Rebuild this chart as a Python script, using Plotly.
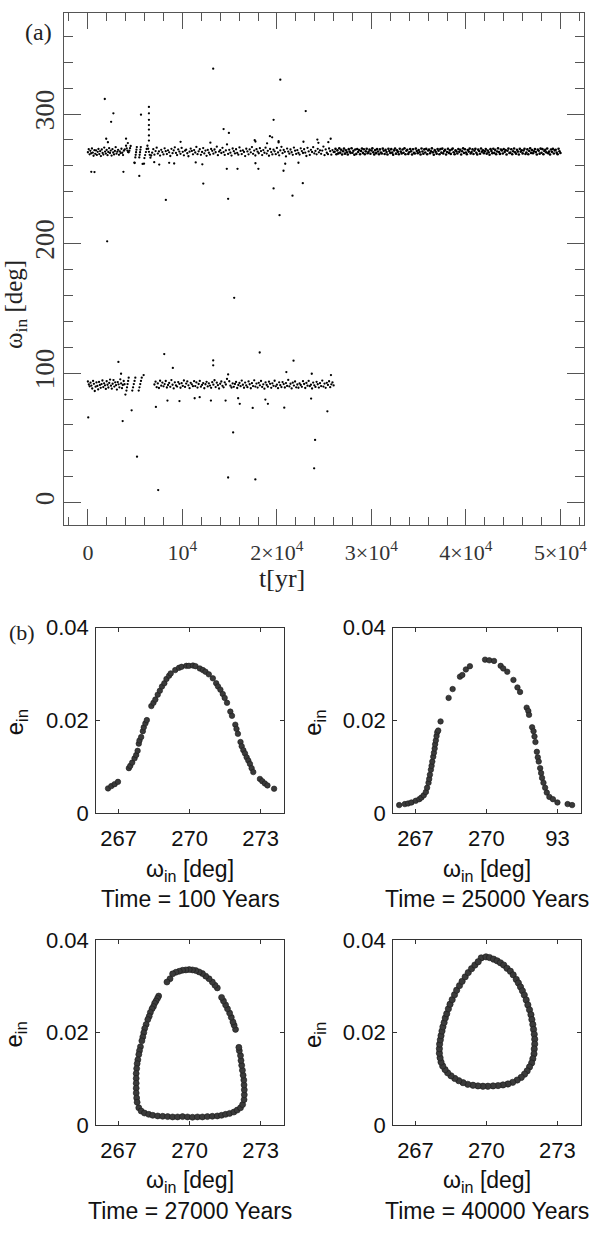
import plotly.graph_objects as go

# ---------------- panel (a): omega_in versus time ----------------
# upper branch, t < 4000 yr
t_up_early = [0, 90, 180, 260, 350, 430, 520, 600, 690, 780, 860, 950, 1040, 1120, 1210, 1300, 1380, 1470, 1560, 1640,
              1730, 1820, 1900, 1990, 2080, 2160, 2250, 2340, 2420, 2510, 2600, 2680, 2770, 2860, 2940, 3030, 3120, 3200,
              3290, 3380, 3460, 3550, 3640, 3720, 3810, 3900]
w_up_early = [270.5, 272.8, 268.9, 271.6, 269.7, 273.4, 270.2, 267.8, 272.1, 269.3, 271.9, 268.4, 270.8, 273.0, 269.1,
              271.3, 267.5, 272.6, 270.0, 268.7, 274.1, 271.0, 269.5, 272.3, 268.2, 270.7, 273.6, 269.9, 271.8, 267.9,
              272.9, 270.3, 268.8, 271.5, 274.4, 269.4, 270.9, 272.4, 268.5, 271.2, 269.8, 273.2, 270.1, 268.3, 271.7, 272.6]
# upper branch, the U / || / Lambda features and the spike near 6500 yr
t_up_shapes = [4040, 4110, 4180, 4250, 4320, 4390, 4460, 4530, 5020, 5060, 5100, 5140, 5180, 5440, 5480, 5520, 5560, 5600,
               5980, 6060, 6140, 6220, 6300, 6380, 6460, 6540, 6620, 6700, 6460, 6460, 6460, 6460, 6460, 6460, 6460,
               6800, 6920]
w_up_shapes = [275.5, 273.5, 271.8, 270.6, 270.4, 271.7, 273.6, 275.3, 266.5, 268.5, 270.5, 272.5, 274.5, 266.5, 268.5,
               270.5, 272.5, 274.5, 266.0, 268.3, 270.6, 273.0, 275.5, 273.2, 270.8, 268.5, 266.3, 268.0, 305.5, 300.5,
               295.5, 291.5, 288.0, 283.5, 279.5, 270.2, 272.9]
# common sampling times 7000-26000 yr (both branches)
t_mid = [7040, 7160, 7280, 7400, 7520, 7640, 7760, 7880, 8000, 8120,
         8240, 8360, 8480, 8600, 8720, 8840, 8960, 9080, 9200, 9320,
         9440, 9560, 9680, 9800, 9920, 10040, 10160, 10280, 10400, 10520,
         10640, 10760, 10880, 11000, 11120, 11240, 11360, 11480, 11600, 11720,
         11840, 11960, 12080, 12200, 12320, 12440, 12560, 12680, 12800, 12920,
         13040, 13160, 13280, 13400, 13520, 13640, 13760, 13880, 14000, 14120,
         14240, 14360, 14480, 14600, 14720, 14840, 14960, 15080, 15200, 15320,
         15440, 15560, 15680, 15800, 15920, 16040, 16160, 16280, 16400, 16520,
         16640, 16760, 16880, 17000, 17120, 17240, 17360, 17480, 17600, 17720,
         17840, 17960, 18080, 18200, 18320, 18440, 18560, 18680, 18800, 18920,
         19040, 19160, 19280, 19400, 19520, 19640, 19760, 19880, 20000, 20120,
         20240, 20360, 20480, 20600, 20720, 20840, 20960, 21080, 21200, 21320,
         21440, 21560, 21680, 21800, 21920, 22040, 22160, 22280, 22400, 22520,
         22640, 22760, 22880, 23000, 23120, 23240, 23360, 23480, 23600, 23720,
         23840, 23960, 24080, 24200, 24320, 24440, 24560, 24680, 24800, 24920,
         25040, 25160, 25280, 25400, 25520, 25640, 25760, 25880, 26000]
w_up_mid = [268.6, 271.4, 274.0, 269.5, 271.1, 267.9, 272.4, 270.6, 268.8, 273.5,
            271.3, 269.1, 272.0, 270.4, 267.6, 273.1, 269.8, 271.9, 274.3, 270.0,
            268.3, 272.7, 271.0, 269.3, 273.8, 270.8, 268.1, 271.7, 272.5, 269.7,
            267.4, 270.9, 273.3, 271.5, 268.9, 272.2, 270.3, 274.6, 269.0, 271.2,
            272.8, 268.5, 270.7, 273.7, 269.6, 271.8, 267.7, 272.3, 270.1, 268.7,
            273.0, 271.6, 269.4, 272.6, 270.5, 274.8, 268.2, 271.0, 272.1, 269.9,
            273.9, 270.6, 268.4, 271.9, 276.5, 269.2, 272.4, 270.2, 267.9, 273.4,
            271.3, 269.6, 272.8, 270.0, 268.6, 274.2, 271.5, 269.1, 272.0, 270.7,
            267.5, 273.2, 271.1, 268.9, 272.7, 270.4, 274.5, 269.3, 271.8, 268.0,
            272.9, 270.9, 269.7, 273.6, 271.4, 268.3, 272.2, 270.1, 274.0, 269.5,
            271.6, 267.8, 273.0, 270.6, 268.8, 272.5, 271.2, 269.0, 273.8, 270.3,
            268.1, 271.9, 274.7, 269.8, 272.3, 270.8, 267.3, 273.3, 271.0, 269.4,
            272.6, 270.5, 268.5, 274.1, 271.7, 269.2, 272.1, 270.0, 268.7, 273.5,
            271.4, 269.9, 272.8, 270.2, 267.6, 273.9, 271.1, 268.4, 272.4, 270.7,
            274.4, 269.6, 271.5, 268.9, 273.1, 270.4, 272.0, 269.3, 271.8, 274.9,
            268.2, 272.7, 270.1, 269.0, 273.4, 271.3, 268.6, 272.2, 270.6]
w_lo_mid = [91.2, 93.4, 89.1, 92.0, 88.5, 94.1, 90.3, 92.7, 89.8, 91.5,
            93.9, 88.9, 90.8, 92.4, 89.4, 94.6, 91.0, 88.2, 92.9, 90.5,
            89.6, 93.1, 91.7, 88.7, 92.2, 90.1, 94.3, 89.3, 91.9, 93.6,
            90.6, 88.4, 92.5, 91.3, 89.9, 93.8, 90.0, 92.8, 88.8, 91.6,
            94.0, 89.5, 90.9, 92.3, 88.3, 91.4, 93.3, 89.7, 92.1, 90.4,
            88.6, 93.0, 91.1, 94.5, 89.2, 92.6, 90.7, 88.1, 91.8, 93.5,
            90.2, 89.0, 92.9, 91.2, 95.5, 99.0, 93.7, 90.3, 88.9, 92.0,
            89.4, 91.6, 93.2, 88.5, 90.8, 92.4, 89.9, 94.2, 91.0, 88.7,
            92.7, 90.5, 89.1, 93.6, 91.4, 88.3, 92.2, 90.0, 94.4, 89.6,
            91.9, 88.8, 92.5, 90.6, 93.9, 89.3, 91.3, 88.0, 92.8, 90.9,
            89.5, 93.4, 91.7, 88.6, 92.1, 90.2, 94.1, 89.8, 91.1, 88.4,
            92.9, 90.7, 89.2, 93.1, 91.5, 88.9, 92.3, 90.1, 94.7, 89.7,
            91.8, 88.2, 92.6, 90.4, 93.5, 89.0, 91.2, 88.7, 92.0, 90.8,
            89.4, 93.8, 91.6, 88.5, 92.4, 90.3, 94.0, 89.9, 91.0, 88.1,
            92.7, 90.6, 89.3, 93.3, 91.4, 88.8, 92.2, 90.0, 94.2, 89.6,
            91.9, 88.6, 92.5, 90.9, 93.7, 89.1, 91.3, 92.8, 90.5]
# lower branch, t < 4000 yr and the three slanted strokes
t_lo_early = [0, 100, 190, 280, 370, 460, 550, 640, 730, 820, 910, 1000, 1090, 1180, 1270, 1360, 1450, 1540, 1630, 1720,
              1810, 1900, 1990, 2080, 2170, 2260, 2350, 2440, 2530, 2620, 2710, 2800, 2890, 2980, 3070, 3160, 3250, 3340,
              3430, 3520, 3610, 3700, 3790, 3880]
w_lo_early = [93.5, 91.2, 89.8, 92.6, 90.4, 88.1, 94.0, 91.7, 86.2, 89.5, 92.8, 90.1, 87.4, 93.2, 90.9, 88.6, 91.5, 94.3,
              89.2, 92.1, 90.6, 87.8, 93.7, 91.0, 88.9, 92.4, 95.0, 90.3, 88.0, 91.8, 94.6, 89.6, 92.9, 90.7, 87.3, 93.1,
              91.3, 89.0, 95.2, 92.0, 88.4, 90.8, 93.9, 91.4]
t_lo_strokes = [4080, 4140, 4200, 4260, 4320, 4700, 4780, 4860, 4940, 5020, 5380, 5460, 5540, 5620, 5700]
w_lo_strokes = [86.5, 89.0, 91.5, 94.0, 96.5, 86.5, 89.0, 91.5, 94.0, 96.5, 86.5, 89.0, 91.5, 94.0, 96.5]
# scattered points away from the bands
t_out_up = [1790, 2460, 2700, 1940, 4040, 360, 700, 3760, 4950, 5440, 5940, 5620, 2040, 8250, 13260, 12210, 14360, 14920,
            14840, 14700, 15830, 15480, 18040, 17650, 19650, 20360, 20280, 19650, 20700, 21650, 19260, 19500, 20180,
            23050, 22740, 24280, 25690, 4920, 5790, 7020, 7550, 8600, 9130, 11410, 12110, 17730, 20880, 22280, 2120,
            4230, 9810, 12960, 17730, 18960, 20180, 22810, 24390, 25440]
w_out_up = [311.6, 294.0, 300.5, 280.9, 281.0, 255.4, 255.2, 255.4, 262.2, 252.2, 261.7, 299.5, 201.7, 233.7, 335.0,
            246.3, 288.4, 285.4, 234.5, 257.7, 257.7, 158.1, 257.7, 279.8, 295.5, 326.5, 221.9, 242.6, 256.2, 237.0,
            282.9, 282.0, 279.0, 302.3, 246.6, 280.3, 280.9, 262.5, 261.5, 262.8, 261.0, 262.3, 261.8, 262.6, 261.2,
            262.0, 261.6, 262.4, 278.2, 277.6, 278.5, 277.9, 278.8, 277.4, 278.1, 278.6, 277.8, 278.3]
t_out_lo = [40, 3230, 3510, 3680, 3970, 4630, 5200, 5900, 7200, 7440, 8080, 8420, 8990, 9690, 11300, 11830, 13020, 13260,
            13260, 14570, 14840, 15370, 15900, 16070, 17440, 17720, 18180, 18780, 19050, 20780, 21760, 21000, 23690,
            23620, 24040, 23940, 25340, 25720]
w_out_lo = [65.8, 108.6, 99.5, 63.0, 83.4, 71.3, 35.5, 98.5, 73.9, 9.7, 114.7, 78.8, 104.0, 78.4, 80.6, 81.4, 78.8, 106.0,
            109.8, 78.8, 19.4, 54.2, 80.6, 76.3, 73.1, 17.9, 115.9, 79.6, 76.3, 73.3, 109.6, 100.8, 99.5, 80.3, 48.4,
            26.5, 70.5, 98.5]
# late, tightly confined band (t > 26000 yr)
t_late = [26100, 26200, 26300, 26400, 26500, 26600, 26700, 26800, 26900, 27000,
          27100, 27200, 27300, 27400, 27500, 27600, 27700, 27800, 27900, 28000,
          28100, 28200, 28300, 28400, 28500, 28600, 28700, 28800, 28900, 29000,
          29100, 29200, 29300, 29400, 29500, 29600, 29700, 29800, 29900, 30000,
          30100, 30200, 30300, 30400, 30500, 30600, 30700, 30800, 30900, 31000,
          31100, 31200, 31300, 31400, 31500, 31600, 31700, 31800, 31900, 32000,
          32100, 32200, 32300, 32400, 32500, 32600, 32700, 32800, 32900, 33000,
          33100, 33200, 33300, 33400, 33500, 33600, 33700, 33800, 33900, 34000,
          34100, 34200, 34300, 34400, 34500, 34600, 34700, 34800, 34900, 35000,
          35100, 35200, 35300, 35400, 35500, 35600, 35700, 35800, 35900, 36000,
          36100, 36200, 36300, 36400, 36500, 36600, 36700, 36800, 36900, 37000,
          37100, 37200, 37300, 37400, 37500, 37600, 37700, 37800, 37900, 38000,
          38100, 38200, 38300, 38400, 38500, 38600, 38700, 38800, 38900, 39000,
          39100, 39200, 39300, 39400, 39500, 39600, 39700, 39800, 39900, 40000,
          40100, 40200, 40300, 40400, 40500, 40600, 40700, 40800, 40900, 41000,
          41100, 41200, 41300, 41400, 41500, 41600, 41700, 41800, 41900, 42000,
          42100, 42200, 42300, 42400, 42500, 42600, 42700, 42800, 42900, 43000,
          43100, 43200, 43300, 43400, 43500, 43600, 43700, 43800, 43900, 44000,
          44100, 44200, 44300, 44400, 44500, 44600, 44700, 44800, 44900, 45000,
          45100, 45200, 45300, 45400, 45500, 45600, 45700, 45800, 45900, 46000,
          46100, 46200, 46300, 46400, 46500, 46600, 46700, 46800, 46900, 47000,
          47100, 47200, 47300, 47400, 47500, 47600, 47700, 47800, 47900, 48000,
          48100, 48200, 48300, 48400, 48500, 48600, 48700, 48800, 48900, 49000,
          49100, 49200, 49300, 49400, 49500, 49600, 49700, 49800, 49900, 50000]
w_late = [270.8, 273.1, 268.9, 271.9, 269.6, 273.5, 270.2, 272.4, 268.7, 271.3,
          273.3, 269.4, 272.0, 270.5, 268.8, 272.9, 271.0, 269.9, 273.6, 270.1,
          271.7, 268.6, 272.6, 269.2, 273.0, 270.7, 272.2, 269.0, 271.5, 273.4,
          270.0, 272.8, 268.9, 271.2, 273.2, 269.7, 270.9, 272.5, 269.3, 271.8,
          273.5, 270.4, 268.7, 272.1, 269.8, 273.0, 271.1, 268.9, 272.7, 270.3,
          269.5, 273.3, 271.6, 269.1, 272.3, 270.6, 268.8, 273.1, 271.4, 269.9,
          272.9, 270.2, 268.6, 271.9, 273.4, 269.4, 272.0, 270.8, 269.0, 273.2,
          271.0, 269.6, 272.6, 270.1, 273.5, 268.9, 271.7, 272.4, 269.2, 270.5,
          273.0, 271.3, 268.7, 272.8, 270.0, 269.5, 273.3, 271.5, 269.8, 272.2,
          270.6, 268.8, 273.4, 271.1, 269.3, 272.7, 270.3, 273.1, 268.9, 271.8,
          272.5, 269.7, 271.2, 273.5, 270.4, 268.6, 272.1, 270.9, 269.4, 273.0,
          271.6, 269.0, 272.9, 270.2, 273.3, 269.6, 271.4, 272.3, 268.8, 270.7,
          273.2, 270.0, 271.9, 269.2, 272.6, 273.4, 270.5, 268.9, 272.0, 271.1,
          269.5, 273.0, 270.8, 272.4, 268.7, 271.3, 273.5, 269.9, 272.8, 270.3,
          268.9, 272.2, 271.0, 273.3, 269.6, 270.6, 272.7, 269.1, 271.7, 273.1,
          270.1, 268.8, 272.5, 271.4, 269.3, 273.4, 270.9, 272.0, 269.7, 271.2,
          273.0, 269.4, 271.8, 270.4, 268.6, 272.9, 271.5, 269.8, 273.2, 270.0,
          272.3, 268.9, 271.1, 273.5, 270.6, 269.2, 272.6, 271.9, 269.5, 273.0,
          270.7, 272.1, 268.7, 271.6, 273.3, 269.9, 270.2, 272.8, 269.0, 271.3,
          273.4, 270.5, 269.3, 272.4, 271.0, 268.8, 273.1, 270.9, 272.0, 269.6,
          271.8, 273.2, 269.1, 270.3, 272.7, 268.9, 271.4, 273.5, 270.0, 272.2,
          269.7, 271.2, 273.0, 270.6, 268.7, 272.5, 271.7, 269.4, 273.3, 270.1,
          272.9, 269.0, 271.5, 272.3, 270.4, 273.4, 269.8, 271.0, 268.8, 272.6,
          270.8, 273.1, 269.5, 271.9, 272.4, 270.2, 268.9, 273.2, 271.3, 269.9]

# ---------------- panel (b): e_in versus omega_in snapshots ----------------
snap_titles = ["Time = 100 Years", "Time = 25000 Years", "Time = 27000 Years", "Time = 40000 Years"]
w_b1 = [266.55, 266.69, 266.83, 266.97, 267.43, 267.49, 267.57, 267.67, 267.74, 267.80, 267.85, 267.88, 267.95, 268.02,
        268.06, 268.13, 268.19, 268.38, 268.47, 268.55, 268.65, 268.74, 268.83, 268.93, 269.02, 269.13, 269.20, 269.39,
        269.55, 269.66, 269.86, 269.97, 270.14, 270.25, 270.43, 270.56, 270.67, 270.81, 270.98, 271.12, 271.20, 271.30,
        271.40, 271.48, 271.58, 271.72, 271.79, 271.93, 271.98, 272.04, 272.15, 272.20, 272.27, 272.34, 272.41, 272.48,
        272.55, 272.62, 272.69, 272.97, 273.07, 273.18, 273.29, 273.57]
e_b1 = [0.00535, 0.00585, 0.00627, 0.00676, 0.00972, 0.01021, 0.01092, 0.01183, 0.01254, 0.01345, 0.01500, 0.01570,
        0.01641, 0.01768, 0.01852, 0.01937, 0.02007, 0.02310, 0.02380, 0.02451, 0.02556, 0.02641, 0.02732, 0.02803,
        0.02894, 0.02965, 0.03014, 0.03085, 0.03134, 0.03155, 0.03176, 0.03176, 0.03183, 0.03169, 0.03120, 0.03085,
        0.03049, 0.02993, 0.02908, 0.02803, 0.02732, 0.02662, 0.02570, 0.02486, 0.02380, 0.02190, 0.02099, 0.01908,
        0.01817, 0.01711, 0.01535, 0.01444, 0.01359, 0.01289, 0.01204, 0.01134, 0.01063, 0.00972, 0.00887, 0.00739,
        0.00690, 0.00641, 0.00599, 0.00528]
w_b2 = [266.31, 266.55, 266.69, 266.83, 267.01, 267.16, 267.25, 267.35, 267.44, 267.49, 267.55, 267.58, 267.61, 267.65,
        267.68, 267.71, 267.75, 267.78, 267.81, 267.83, 267.86, 267.89, 267.92, 267.96, 268.06, 268.40, 268.57, 268.88,
        268.98, 269.13, 269.30, 269.94, 270.12, 270.32, 270.60, 270.71, 270.88, 271.14, 271.31, 271.42, 271.70, 271.77,
        271.80, 271.93, 271.99, 272.03, 272.07, 272.13, 272.17, 272.21, 272.27, 272.31, 272.35, 272.41, 272.48, 272.55,
        272.66, 272.81, 273.00, 273.43, 273.62]
e_b2 = [0.00176, 0.00197, 0.00211, 0.00232, 0.00268, 0.00303, 0.00338, 0.00387, 0.00458, 0.00549, 0.00655, 0.00739,
        0.00831, 0.00937, 0.01021, 0.01113, 0.01218, 0.01303, 0.01394, 0.01486, 0.01570, 0.01662, 0.01746, 0.01782,
        0.01979, 0.02486, 0.02676, 0.02944, 0.02979, 0.03099, 0.03169, 0.03310, 0.03296, 0.03282, 0.03176, 0.03120,
        0.03049, 0.02873, 0.02711, 0.02613, 0.02275, 0.02204, 0.02120, 0.01852, 0.01768, 0.01655, 0.01535, 0.01324,
        0.01204, 0.01113, 0.00972, 0.00866, 0.00761, 0.00655, 0.00549, 0.00444, 0.00352, 0.00303, 0.00232, 0.00197,
        0.00176]
w_b3 = [267.85, 267.95, 268.09, 268.27, 268.44, 268.65, 268.86, 269.07, 269.28, 269.49, 269.70, 269.91, 270.12, 270.33,
        270.54, 270.75, 270.96, 271.17, 271.35, 271.52, 271.69, 271.87, 272.01, 272.15, 272.24, 272.30, 272.31, 272.31,
        272.30, 272.29, 272.26, 272.23, 272.20, 272.17, 272.15, 272.10, 272.08, 271.94, 271.88, 271.83, 271.76, 271.69,
        271.60, 271.52, 271.43, 271.35, 271.17, 271.07, 270.96, 270.82, 270.68, 270.54, 270.40, 270.26, 270.12, 269.98,
        269.84, 269.70, 269.56, 269.42, 269.28, 269.17, 269.04, 268.69, 268.64, 268.58, 268.52, 268.47, 268.41, 268.34,
        268.29, 268.23, 268.16, 268.10, 268.06, 268.02, 267.98, 267.92, 267.88, 267.85, 267.81, 267.78, 267.76, 267.74,
        267.74, 267.74, 267.74, 267.74, 267.76, 267.78]
e_b3 = [0.00375, 0.00304, 0.00261, 0.00233, 0.00212, 0.00198, 0.00191, 0.00184, 0.00177, 0.00177, 0.00184, 0.00177,
        0.00170, 0.00177, 0.00177, 0.00184, 0.00191, 0.00198, 0.00212, 0.00233, 0.00254, 0.00283, 0.00325, 0.00375,
        0.00445, 0.00551, 0.00657, 0.00763, 0.00869, 0.00975, 0.01081, 0.01187, 0.01293, 0.01399, 0.01505, 0.01611,
        0.01682, 0.02071, 0.02163, 0.02233, 0.02332, 0.02424, 0.02516, 0.02601, 0.02686, 0.02763, 0.02968, 0.03025,
        0.03095, 0.03166, 0.03223, 0.03279, 0.03314, 0.03343, 0.03357, 0.03364, 0.03357, 0.03350, 0.03329, 0.03307,
        0.03272, 0.03166, 0.03095, 0.02792, 0.02742, 0.02686, 0.02636, 0.02565, 0.02516, 0.02438, 0.02353, 0.02283,
        0.02177, 0.02092, 0.02000, 0.01908, 0.01823, 0.01696, 0.01611, 0.01527, 0.01413, 0.01329, 0.01223, 0.01117,
        0.01011, 0.00905, 0.00799, 0.00693, 0.00587, 0.00495]
w_b4 = [269.78, 269.98, 270.13, 270.30, 270.45, 270.59, 270.73, 270.87, 271.01, 271.13, 271.26, 271.35, 271.44, 271.52,
        271.60, 271.68, 271.75, 271.82, 271.88, 271.92, 271.96, 271.99, 272.02, 272.04, 272.04, 272.02, 272.01, 271.96,
        271.91, 271.82, 271.72, 271.61, 271.47, 271.30, 271.11, 270.91, 270.70, 270.49, 270.28, 270.06, 269.85, 269.64,
        269.43, 269.21, 269.01, 268.83, 268.66, 268.50, 268.36, 268.25, 268.15, 268.08, 268.04, 268.01, 268.01, 268.02,
        268.05, 268.08, 268.12, 268.16, 268.21, 268.26, 268.32, 268.39, 268.46, 268.55, 268.65, 268.74, 268.86, 268.97,
        269.10, 269.23, 269.37, 269.51, 269.65]
e_b4 = [0.03618, 0.03640, 0.03625, 0.03590, 0.03555, 0.03512, 0.03463, 0.03392, 0.03329, 0.03251, 0.03152, 0.03074,
        0.02989, 0.02905, 0.02813, 0.02707, 0.02601, 0.02495, 0.02389, 0.02283, 0.02177, 0.02071, 0.01965, 0.01859,
        0.01753, 0.01647, 0.01541, 0.01435, 0.01343, 0.01258, 0.01173, 0.01102, 0.01032, 0.00975, 0.00926, 0.00890,
        0.00869, 0.00855, 0.00848, 0.00841, 0.00841, 0.00848, 0.00862, 0.00883, 0.00919, 0.00961, 0.01011, 0.01067,
        0.01131, 0.01201, 0.01279, 0.01364, 0.01456, 0.01555, 0.01654, 0.01753, 0.01845, 0.01936, 0.02035, 0.02127,
        0.02219, 0.02318, 0.02410, 0.02516, 0.02615, 0.02714, 0.02820, 0.02919, 0.03018, 0.03110, 0.03208, 0.03300,
        0.03385, 0.03463, 0.03534]

# tick labels
a_xticks = [0, 10000, 20000, 30000, 40000, 50000]
a_xticktext = ["0", "10<sup>4</sup>", "2×10<sup>4</sup>", "3×10<sup>4</sup>", "4×10<sup>4</sup>", "5×10<sup>4</sup>"]
a_yticks = [0, 100, 200, 300]
b_xticks = [267, 270, 273]
b_xticktext = [["267", "270", "273"], ["267", "270", "93"], ["267", "270", "273"], ["267", "270", "273"]]
b_yticks = [0, 0.02, 0.04]
b_yticktext = ["0", "0.02", "0.04"]

pairs = [(t_up_early, w_up_early), (t_up_shapes, w_up_shapes), (t_mid, w_up_mid), (t_mid, w_lo_mid),
         (t_lo_early, w_lo_early), (t_lo_strokes, w_lo_strokes), (t_out_up, w_out_up), (t_out_lo, w_out_lo),
         (t_late, w_late), (w_b1, e_b1), (w_b2, e_b2), (w_b3, e_b3), (w_b4, e_b4)]
for i, (a, b) in enumerate(pairs):
    if len(a) != len(b):
        raise ValueError(f"length mismatch in pair {i}: {len(a)} vs {len(b)}")

# ---------------- figure ----------------
W, H = 600, 1241
SERIF = "Liberation Serif, Times New Roman, serif"
SANS = "Liberation Sans, Arial, Helvetica, sans-serif"


def fx(px):
    return px / W


def fy(py):
    return 1 - py / H


fig = go.Figure()

t_all = t_up_early + t_up_shapes + t_mid + t_mid + t_lo_early + t_lo_strokes + t_out_up + t_out_lo
w_all = w_up_early + w_up_shapes + w_up_mid + w_lo_mid + w_lo_early + w_lo_strokes + w_out_up + w_out_lo
fig.add_trace(go.Scatter(x=t_all, y=w_all, mode="markers", xaxis="x", yaxis="y",
                         marker=dict(size=2.3, color="black", line=dict(width=0)), hoverinfo="skip"))
fig.add_trace(go.Scatter(x=t_late, y=w_late, mode="markers", xaxis="x", yaxis="y",
                         marker=dict(size=2.6, color="black", line=dict(width=0)), hoverinfo="skip"))

snaps = [(w_b1, e_b1, 5.5), (w_b2, e_b2, 5.5), (w_b3, e_b3, 6.0), (w_b4, e_b4, 6.3)]
for k, (wv, ev, ms) in enumerate(snaps):
    n = k + 2
    fig.add_trace(go.Scatter(x=wv, y=ev, mode="markers", xaxis=f"x{n}", yaxis=f"y{n}",
                             marker=dict(size=ms, color="#3a3a3a", line=dict(width=0.6, color="#1a1a1a")),
                             hoverinfo="skip"))

AXC = "#555555"
layout = dict(
    width=W, height=H, margin=dict(l=0, r=0, t=0, b=0),
    paper_bgcolor="white", plot_bgcolor="white", showlegend=False,
    xaxis=dict(domain=[fx(64), fx(587)], anchor="y", range=[-2560, 52500],
               showline=True, mirror="ticks", linecolor=AXC, linewidth=1.3,
               ticks="inside", ticklen=16, tickwidth=1.2, tickcolor=AXC,
               tickmode="array", tickvals=a_xticks, ticktext=a_xticktext,
               tickfont=dict(family=SERIF, size=22, color="#333"),
               minor=dict(tickmode="linear", tick0=0, dtick=2000, ticks="inside", ticklen=8,
                          tickwidth=1.2, tickcolor=AXC, showgrid=False),
               showgrid=False, zeroline=False, ticklabelstandoff=7),
    yaxis=dict(domain=[fy(524), fy(1)], anchor="x", range=[-17.6, 378],
               showline=True, mirror="ticks", linecolor=AXC, linewidth=1.3,
               ticks="inside", ticklen=17, tickwidth=1.2, tickcolor=AXC,
               tickmode="array", tickvals=a_yticks, ticktext=[str(v) for v in a_yticks], tickangle=-90,
               tickfont=dict(family=SERIF, size=27, color="#333"),
               minor=dict(tickmode="linear", tick0=0, dtick=20, ticks="inside", ticklen=9,
                          tickwidth=1.2, tickcolor=AXC, showgrid=False),
               showgrid=False, zeroline=False, ticklabelstandoff=-2),
)

boxes = [(96.7, 285.7, 628.3, 817.7), (395, 584, 628.3, 817.7),
         (96.7, 285.7, 947.3, 1136), (395, 584, 947.3, 1136)]
for k, (x0, x1, y0, y1) in enumerate(boxes):
    n = k + 2
    layout[f"xaxis{n}"] = dict(domain=[fx(x0), fx(x1)], anchor=f"y{n}", range=[266.05, 274.0],
                               showline=True, mirror="ticks", linecolor="#333", linewidth=1,
                               ticks="inside", ticklen=4, tickwidth=1, tickcolor="#333",
                               tickmode="array", tickvals=b_xticks, ticktext=b_xticktext[k],
                               tickfont=dict(family=SANS, size=22, color="#111"),
                               showgrid=False, zeroline=False, ticklabelstandoff=5)
    layout[f"yaxis{n}"] = dict(domain=[fy(y1), fy(y0)], anchor=f"x{n}", range=[0, 0.04],
                               showline=True, mirror="ticks", linecolor="#333", linewidth=1,
                               ticks="inside", ticklen=4, tickwidth=1, tickcolor="#333",
                               tickmode="array", tickvals=b_yticks, ticktext=b_yticktext,
                               tickfont=dict(family=SANS, size=22, color="#111"),
                               showgrid=False, zeroline=False, ticklabelstandoff=2)

ann = []


def add_text(text, px, py, family, size, angle=0, color="#222"):
    ann.append(dict(text=text, x=fx(px), y=fy(py), xref="paper", yref="paper", showarrow=False,
                    xanchor="center", yanchor="middle", textangle=angle,
                    font=dict(family=family, size=size, color=color)))


add_text("(a)", 39, 20, SERIF, 24)
add_text("ω<sub>in</sub> [deg]", 16, 298, SERIF, 25, angle=-90)
add_text("t[yr]", 283, 578, SERIF, 26)
add_text("(b)", 22, 633, SERIF, 22)
for k, (x0, x1, y0, y1) in enumerate(boxes):
    cx = (x0 + x1) / 2
    cy = (y0 + y1) / 2
    ex = 16 if k % 2 == 0 else 316
    add_text("e<sub>in</sub>", ex, cy + 2, SANS, 24, angle=-90, color="#111")
    add_text("ω<sub>in</sub> [deg]", cx, y1 + 58, SANS, 23, color="#111")
    add_text(snap_titles[k], cx, y1 + 88, SANS, 23, color="#111")

layout["annotations"] = ann
fig.update_layout(**layout)
fig.write_html("out.html")
